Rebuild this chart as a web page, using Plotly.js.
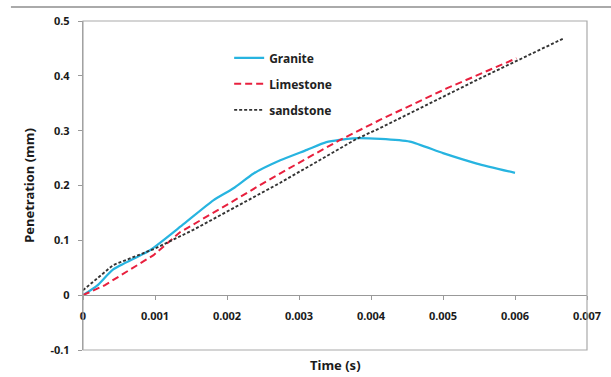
<!DOCTYPE html>
<html>
<head>
<meta charset="utf-8">
<script src="https://cdn.plot.ly/plotly-3.0.1.min.js"></script>
<style>html,body{margin:0;padding:0;background:#fff;}#chart{width:611px;height:377px;}</style>
</head>
<body>
<div id="chart"></div>
<script>
const graniteT = [0, 0.0002, 0.00042, 0.00093, 0.0014, 0.00181, 0.00209, 0.00237, 0.00274, 0.00311, 0.00338, 0.00375, 0.00413, 0.00454, 0.0050, 0.00547, 0.0060];
const graniteV = [0, 0.018, 0.047, 0.082, 0.13, 0.173, 0.195, 0.222, 0.246, 0.265, 0.279, 0.286, 0.285, 0.280, 0.259, 0.240, 0.223];
const limestoneT = [0, 0.0003, 0.00098, 0.00135, 0.00195, 0.0025, 0.00306, 0.00357, 0.00413, 0.00505, 0.00602];
const limestoneV = [0, 0.018, 0.073, 0.115, 0.161, 0.204, 0.246, 0.283, 0.320, 0.377, 0.432];
const sandstoneT = [0, 0.00042, 0.001, 0.00153, 0.00274, 0.0038, 0.00413, 0.00551, 0.00667];
const sandstoneV = [0.009, 0.055, 0.085, 0.119, 0.205, 0.285, 0.305, 0.395, 0.468];
const xTicks = [0, 0.001, 0.002, 0.003, 0.004, 0.005, 0.006, 0.007];
const xTickText = ["0", "0.001", "0.002", "0.003", "0.004", "0.005", "0.006", "0.007"];
const yTicks = [-0.1, 0, 0.1, 0.2, 0.3, 0.4, 0.5];
const yTickText = ["-0.1", "0", "0.1", "0.2", "0.3", "0.4", "0.5"];

const fontFam = "'Noto Sans', 'Open Sans', sans-serif";
const traces = [
  {x: graniteT, y: graniteV, name: "Granite", mode: "lines", legendgroup: "a",
   line: {color: "#27b4e0", width: 2.2, shape: "spline", smoothing: 0.6}},
  {x: limestoneT, y: limestoneV, name: "Limestone", mode: "lines", legendgroup: "b",
   line: {color: "#e8203e", width: 2, dash: "7px,4px"}},
  {x: sandstoneT, y: sandstoneV, name: "sandstone", mode: "lines", legendgroup: "c",
   line: {color: "#333333", width: 1.9, dash: "3px,2px"}}
];
const layout = {
  width: 611, height: 377,
  margin: {l: 83, r: 24, t: 21, b: 27, pad: 0},
  paper_bgcolor: "#fff", plot_bgcolor: "#fff",
  font: {family: fontFam, size: 11, color: "#222"},
  showlegend: true,
  legend: {x: 0.29, y: 0.932, xanchor: "left", yanchor: "top", bgcolor: "rgba(0,0,0,0)",
           font: {family: fontFam, size: 12, color: "#222", weight: "bold"},
           traceorder: "grouped", tracegroupgap: 7},
  xaxis: {range: [0, 0.007], tickvals: xTicks, ticktext: xTickText,
          anchor: "free", position: 0.1672, showline: true, linecolor: "#999", linewidth: 1.2,
          ticks: "outside", ticklen: 4, tickcolor: "#999", showgrid: false, zeroline: false,
          ticklabelstandoff: 7, automargin: false,
          tickfont: {family: fontFam, size: 11, color: "#1a1a1a", weight: "bold"}},
  yaxis: {range: [-0.1, 0.5], tickvals: yTicks, ticktext: yTickText,
          showline: true, linecolor: "#999", linewidth: 1.2, ticks: "outside", ticklen: 4, tickcolor: "#999",
          showgrid: false, zeroline: false, ticklabelstandoff: 6, automargin: false,
          tickfont: {family: fontFam, size: 11, color: "#1a1a1a", weight: "bold"},
          title: {text: "Penetration (mm)", standoff: 12,
                  font: {family: fontFam, size: 13, color: "#1a1a1a", weight: "bold"}}},
  shapes: [
    {type: "rect", xref: "paper", yref: "paper", x0: 0, x1: 1, y0: 0, y1: 1,
     line: {color: "#aaa", width: 1.2}},
    {type: "line", xref: "paper", yref: "paper", x0: -0.143, x1: 1.05, y0: 1.0426, y1: 1.0426,
     line: {color: "#aaa", width: 2}}
  ],
  annotations: [
    {text: "Time (s)", xref: "paper", yref: "paper", x: 0.5, y: -0.045, xanchor: "center", yanchor: "middle",
     showarrow: false, font: {family: fontFam, size: 13, color: "#1a1a1a", weight: "bold"}}
  ]
};
Plotly.newPlot("chart", traces, layout, {staticPlot: true, displayModeBar: false});
</script>
</body>
</html>
